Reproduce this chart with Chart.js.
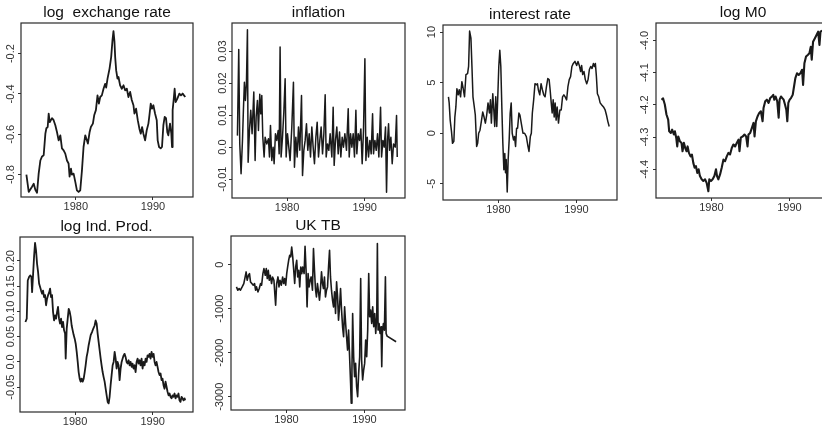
<!DOCTYPE html>
<html lang="en">
<head>
<meta charset="UTF-8">
<title>Monthly series, 1974-1994</title>
<script src="https://cdn.jsdelivr.net/npm/chart.js"></script>
<style>
  html, body { margin: 0; padding: 0; background: #fff; }
  body { width: 822px; height: 425px; overflow: hidden; position: relative; }
  canvas { position: absolute; }
</style>
</head>
<body>
<script>
// ---- data ----
const exYears = [1973.60,1973.90,1974.33,1974.55,1974.76,1974.98,1975.19,1975.41,1975.63,1975.84,1976.06,1976.19,1976.36,1976.49,1976.62,1976.92,1977.13,1977.35,1977.57,1977.78,1978.00,1978.21,1978.43,1978.64,1978.86,1979.07,1979.20,1979.38,1979.50,1979.72,1979.94,1980.15,1980.37,1980.58,1980.80,1981.01,1981.23,1981.44,1981.57,1981.79,1981.96,1982.22,1982.39,1982.61,1982.82,1983.00,1983.17,1983.38,1983.60,1983.81,1983.94,1984.12,1984.38,1984.59,1984.76,1984.89,1985.02,1985.11,1985.24,1985.41,1985.54,1985.75,1985.97,1986.19,1986.40,1986.62,1986.83,1987.05,1987.26,1987.48,1987.61,1987.82,1988.04,1988.25,1988.43,1988.60,1988.77,1988.99,1989.20,1989.42,1989.55,1989.72,1989.89,1990.06,1990.28,1990.50,1990.62,1990.80,1991.01,1991.18,1991.36,1991.53,1991.70,1991.87,1992.00,1992.22,1992.39,1992.48,1992.56,1992.69,1992.82,1992.95,1993.17,1993.43,1993.64,1993.86,1994.03,1994.20];
const exValues = [-0.80,-0.886,-0.86,-0.845,-0.875,-0.89,-0.795,-0.73,-0.71,-0.704,-0.597,-0.57,-0.564,-0.497,-0.54,-0.52,-0.53,-0.555,-0.59,-0.63,-0.605,-0.67,-0.68,-0.696,-0.73,-0.745,-0.81,-0.77,-0.80,-0.795,-0.836,-0.878,-0.886,-0.878,-0.78,-0.663,-0.605,-0.63,-0.646,-0.59,-0.564,-0.547,-0.506,-0.48,-0.407,-0.448,-0.415,-0.407,-0.374,-0.35,-0.368,-0.324,-0.274,-0.217,-0.134,-0.088,-0.142,-0.217,-0.283,-0.324,-0.316,-0.357,-0.374,-0.357,-0.382,-0.374,-0.415,-0.39,-0.43,-0.456,-0.497,-0.473,-0.53,-0.572,-0.597,-0.564,-0.597,-0.63,-0.58,-0.547,-0.506,-0.448,-0.473,-0.456,-0.497,-0.53,-0.63,-0.663,-0.67,-0.663,-0.555,-0.514,-0.52,-0.59,-0.605,-0.547,-0.597,-0.663,-0.48,-0.43,-0.374,-0.44,-0.423,-0.398,-0.407,-0.398,-0.407,-0.415];

const infYears = [1973.60,1973.77,1973.90,1974.07,1974.25,1974.37,1974.50,1974.63,1974.76,1974.89,1974.98,1975.15,1975.32,1975.49,1975.71,1975.88,1976.01,1976.18,1976.31,1976.48,1976.61,1976.74,1976.87,1977.04,1977.17,1977.38,1977.60,1977.73,1977.86,1978.03,1978.20,1978.33,1978.50,1978.67,1978.85,1978.98,1979.10,1979.23,1979.41,1979.58,1979.75,1979.88,1980.05,1980.22,1980.39,1980.61,1980.82,1980.95,1981.13,1981.30,1981.47,1981.64,1981.86,1981.99,1982.16,1982.33,1982.50,1982.67,1982.85,1983.02,1983.19,1983.36,1983.53,1983.71,1983.88,1984.05,1984.22,1984.39,1984.57,1984.74,1984.91,1985.04,1985.21,1985.38,1985.55,1985.77,1985.94,1986.07,1986.24,1986.41,1986.59,1986.76,1986.93,1987.10,1987.27,1987.45,1987.66,1987.88,1988.01,1988.18,1988.35,1988.52,1988.69,1988.87,1988.99,1989.17,1989.34,1989.51,1989.68,1989.85,1990.03,1990.16,1990.33,1990.50,1990.67,1990.84,1991.02,1991.14,1991.32,1991.49,1991.66,1991.83,1992.05,1992.18,1992.35,1992.52,1992.69,1992.82,1992.95,1993.08,1993.21,1993.38,1993.55,1993.72,1993.94,1994.11,1994.20];
const infValues = [0.0036,0.0305,0.0010,-0.0083,0.0021,0.0115,0.0203,0.0146,0.0198,0.0367,-0.0047,0.0052,0.0115,0.0042,0.0172,-0.0042,0.0094,0.0146,0.0052,0.0165,0.0104,0.0161,0.0031,-0.0031,0.0031,0.0010,0.0026,-0.0031,0.0068,-0.0042,0.0,-0.0052,0.0042,0.0021,0.0052,-0.0021,0.0313,-0.0031,0.0031,0.0109,0.0214,-0.0031,0.0042,0.0,-0.0042,0.0063,0.0203,-0.0063,0.0031,-0.0031,0.0063,-0.0010,0.0161,-0.0089,-0.0010,0.0021,0.0073,-0.0010,0.0042,-0.0031,0.0063,0.0,-0.0052,0.0031,0.0078,-0.0031,0.0021,0.0063,-0.0021,0.0042,0.0164,-0.0031,0.0010,-0.0010,0.0042,-0.0031,0.0125,-0.0057,0.0021,0.0063,-0.0021,0.0047,-0.0031,0.0031,0.0,0.0042,-0.0010,0.0120,-0.0031,0.0042,0.0,0.0042,-0.0031,0.0115,-0.0021,0.0042,0.0021,0.0057,-0.0052,0.0052,0.0276,-0.0042,0.0031,-0.0031,0.0021,-0.0021,0.0104,-0.0021,0.0021,-0.0010,0.0042,-0.0031,0.0125,-0.0031,0.0021,0.0,0.0063,-0.0141,0.0021,0.0073,-0.0010,0.0031,-0.0052,0.0010,0.0,0.0099,-0.0031];

const irYears = [1973.60,1973.69,1973.82,1973.99,1974.12,1974.29,1974.42,1974.55,1974.68,1974.85,1974.98,1975.15,1975.32,1975.49,1975.66,1975.84,1976.05,1976.18,1976.31,1976.48,1976.61,1976.74,1976.91,1977.04,1977.21,1977.34,1977.47,1977.64,1977.81,1977.99,1978.16,1978.33,1978.50,1978.67,1978.85,1978.98,1979.10,1979.28,1979.41,1979.53,1979.66,1979.79,1979.92,1980.05,1980.18,1980.31,1980.44,1980.57,1980.70,1980.82,1980.91,1981.00,1981.13,1981.25,1981.38,1981.51,1981.64,1981.77,1981.94,1982.07,1982.20,1982.33,1982.46,1982.63,1982.76,1982.93,1983.15,1983.36,1983.58,1983.79,1983.92,1984.09,1984.22,1984.35,1984.52,1984.69,1984.87,1985.00,1985.12,1985.30,1985.47,1985.64,1985.81,1985.98,1986.16,1986.33,1986.50,1986.63,1986.76,1986.89,1987.02,1987.15,1987.27,1987.40,1987.53,1987.70,1987.88,1988.05,1988.22,1988.39,1988.56,1988.74,1988.91,1989.08,1989.25,1989.42,1989.60,1989.81,1990.03,1990.20,1990.37,1990.54,1990.67,1990.80,1990.97,1991.14,1991.32,1991.49,1991.66,1991.83,1992.00,1992.18,1992.31,1992.43,1992.56,1992.69,1992.86,1993.04,1993.25,1993.47,1993.68,1993.85,1994.03,1994.20];
const irValues = [3.6,3.0,1.3,0.16,-1.0,-0.8,1.6,2.6,4.4,3.8,4.3,3.6,5.1,4.4,3.6,5.8,5.9,6.6,10.1,9.4,6.6,3.6,2.6,1.8,-1.3,-1.0,0.0,0.3,1.15,2.1,1.6,1.0,1.8,3.0,2.0,3.3,1.0,3.9,2.3,0.66,3.6,0.66,3.6,6.6,8.2,6.6,2.6,-1.0,-3.6,-2.0,-3.9,-2.6,-5.8,-2.6,-0.66,2.0,3.0,0.0,-0.66,-0.33,-1.3,0.5,0.5,2.0,1.8,1.0,0.0,0.0,-0.33,-1.3,-1.8,-0.33,0.0,2.0,3.3,4.9,4.8,4.9,4.3,3.8,4.9,4.3,3.8,3.6,4.6,5.4,5.3,4.3,3.1,2.0,3.3,1.6,3.0,1.3,2.6,1.0,2.3,2.3,3.6,3.8,3.6,3.3,4.6,5.3,5.6,6.6,6.9,7.1,6.7,7.1,6.7,6.1,6.7,5.8,6.1,5.3,4.9,5.3,6.3,6.6,6.4,6.9,6.6,6.9,5.6,3.9,3.6,3.0,2.8,2.6,2.3,1.8,1.15,0.66];

const m0Years = [1973.60,1973.81,1974.03,1974.24,1974.46,1974.59,1974.80,1974.97,1975.19,1975.32,1975.49,1975.62,1975.75,1975.96,1976.17,1976.30,1976.47,1976.65,1976.82,1976.95,1977.12,1977.33,1977.50,1977.68,1977.85,1978.02,1978.19,1978.36,1978.53,1978.75,1978.96,1979.18,1979.39,1979.61,1979.73,1979.95,1980.16,1980.38,1980.59,1980.72,1980.89,1981.11,1981.32,1981.54,1981.75,1981.97,1982.18,1982.39,1982.61,1982.82,1983.04,1983.25,1983.47,1983.60,1983.77,1984.02,1984.24,1984.45,1984.63,1984.75,1984.97,1985.18,1985.40,1985.53,1985.70,1985.91,1986.13,1986.34,1986.56,1986.68,1986.90,1987.11,1987.33,1987.54,1987.76,1987.93,1988.06,1988.23,1988.44,1988.62,1988.74,1988.92,1989.09,1989.26,1989.43,1989.60,1989.73,1989.86,1990.03,1990.20,1990.42,1990.59,1990.76,1990.97,1991.19,1991.40,1991.62,1991.75,1991.92,1992.13,1992.35,1992.56,1992.73,1992.86,1993.03,1993.25,1993.46,1993.68,1993.85,1993.98,1994.19];
const m0Values = [-4.184,-4.18,-4.199,-4.23,-4.246,-4.282,-4.287,-4.277,-4.292,-4.282,-4.302,-4.329,-4.298,-4.313,-4.318,-4.344,-4.318,-4.334,-4.344,-4.329,-4.349,-4.36,-4.354,-4.38,-4.395,-4.39,-4.411,-4.40,-4.421,-4.431,-4.436,-4.431,-4.442,-4.468,-4.431,-4.436,-4.431,-4.421,-4.40,-4.421,-4.431,-4.416,-4.395,-4.37,-4.375,-4.36,-4.349,-4.354,-4.334,-4.323,-4.329,-4.318,-4.308,-4.344,-4.302,-4.298,-4.292,-4.298,-4.329,-4.292,-4.287,-4.272,-4.256,-4.298,-4.251,-4.236,-4.225,-4.22,-4.251,-4.21,-4.189,-4.184,-4.194,-4.179,-4.174,-4.169,-4.184,-4.174,-4.189,-4.24,-4.184,-4.174,-4.179,-4.184,-4.199,-4.215,-4.251,-4.194,-4.184,-4.179,-4.169,-4.143,-4.117,-4.102,-4.107,-4.102,-4.091,-4.138,-4.071,-4.05,-4.045,-4.04,-4.02,-4.06,-4.004,-3.994,-3.984,-3.973,-4.014,-3.973,-3.97];

const ipYears = [1973.60,1973.77,1973.90,1974.07,1974.24,1974.37,1974.46,1974.59,1974.72,1974.84,1974.97,1975.10,1975.23,1975.36,1975.49,1975.62,1975.75,1975.87,1976.00,1976.13,1976.26,1976.39,1976.52,1976.65,1976.78,1976.90,1977.03,1977.16,1977.29,1977.42,1977.55,1977.68,1977.80,1977.93,1978.06,1978.19,1978.32,1978.45,1978.58,1978.71,1978.79,1978.92,1979.05,1979.18,1979.31,1979.43,1979.56,1979.69,1979.82,1979.95,1980.08,1980.21,1980.34,1980.46,1980.59,1980.72,1980.85,1980.98,1981.11,1981.24,1981.36,1981.49,1981.62,1981.75,1981.88,1982.01,1982.18,1982.35,1982.52,1982.65,1982.78,1982.91,1983.04,1983.17,1983.30,1983.42,1983.55,1983.68,1983.81,1983.94,1984.07,1984.20,1984.33,1984.45,1984.58,1984.71,1984.84,1984.97,1985.10,1985.23,1985.35,1985.48,1985.61,1985.74,1985.87,1986.00,1986.13,1986.26,1986.38,1986.51,1986.64,1986.77,1986.90,1987.03,1987.16,1987.29,1987.41,1987.54,1987.67,1987.80,1987.93,1988.06,1988.19,1988.31,1988.44,1988.57,1988.70,1988.83,1988.96,1989.09,1989.22,1989.34,1989.47,1989.60,1989.73,1989.86,1989.99,1990.12,1990.25,1990.37,1990.50,1990.63,1990.76,1990.89,1991.02,1991.15,1991.27,1991.40,1991.53,1991.66,1991.79,1991.92,1992.05,1992.18,1992.30,1992.43,1992.56,1992.69,1992.82,1992.95,1993.08,1993.21,1993.33,1993.46,1993.59,1993.72,1993.85,1993.98,1994.11,1994.19];
const ipValues = [0.079,0.0855,0.161,0.168,0.171,0.168,0.138,0.174,0.21,0.2355,0.22,0.194,0.178,0.155,0.148,0.141,0.135,0.141,0.128,0.132,0.112,0.125,0.132,0.137,0.145,0.128,0.132,0.099,0.082,0.092,0.0855,0.099,0.109,0.0855,0.076,0.0855,0.069,0.079,0.0625,0.056,0.0066,0.066,0.0855,0.105,0.099,0.089,0.072,0.0625,0.053,0.046,0.036,0.020,0.0,-0.020,-0.033,-0.039,-0.033,-0.039,-0.033,-0.020,-0.0066,0.0099,0.020,0.033,0.043,0.053,0.059,0.066,0.072,0.082,0.076,0.056,0.039,0.023,0.0066,-0.0066,-0.020,-0.030,-0.039,-0.053,-0.066,-0.079,-0.082,-0.069,-0.046,-0.026,-0.0066,0.0,0.020,0.0066,-0.013,0.0,-0.0066,-0.036,-0.013,0.0,0.0066,0.013,0.016,0.0099,0.0,-0.0033,0.0033,-0.0066,0.0,-0.0099,-0.0033,-0.013,-0.0066,-0.020,0.0,0.0066,-0.0033,0.0033,-0.0066,0.0066,-0.013,0.0,-0.0066,0.0066,0.0,0.013,0.0099,0.016,0.0066,0.020,0.0099,0.016,0.0,-0.0066,0.0,-0.0099,-0.020,-0.026,-0.023,-0.036,-0.033,-0.046,-0.053,-0.039,-0.049,-0.059,-0.066,-0.0625,-0.069,-0.072,-0.066,-0.069,-0.0625,-0.072,-0.066,-0.069,-0.0625,-0.076,-0.079,-0.069,-0.072,-0.076,-0.072,-0.076];

const tbYears = [1973.60,1973.77,1973.94,1974.11,1974.33,1974.54,1974.67,1974.84,1974.97,1975.14,1975.27,1975.40,1975.57,1975.75,1975.92,1976.05,1976.17,1976.35,1976.52,1976.69,1976.82,1976.99,1977.12,1977.29,1977.42,1977.55,1977.68,1977.80,1977.93,1978.10,1978.23,1978.40,1978.53,1978.62,1978.75,1978.92,1979.05,1979.18,1979.35,1979.52,1979.65,1979.78,1979.91,1980.04,1980.16,1980.29,1980.42,1980.55,1980.68,1980.81,1980.94,1981.06,1981.19,1981.32,1981.45,1981.58,1981.71,1981.84,1981.97,1982.09,1982.27,1982.39,1982.52,1982.65,1982.78,1982.91,1983.04,1983.17,1983.34,1983.47,1983.60,1983.72,1983.85,1983.98,1984.11,1984.24,1984.37,1984.50,1984.63,1984.75,1984.88,1985.01,1985.14,1985.27,1985.40,1985.53,1985.65,1985.78,1985.91,1986.04,1986.17,1986.30,1986.43,1986.56,1986.68,1986.81,1986.94,1987.07,1987.20,1987.33,1987.46,1987.59,1987.71,1987.84,1987.97,1988.10,1988.23,1988.31,1988.40,1988.49,1988.62,1988.74,1988.87,1989.00,1989.13,1989.26,1989.39,1989.52,1989.64,1989.77,1989.90,1990.03,1990.16,1990.29,1990.42,1990.55,1990.67,1990.80,1990.93,1991.06,1991.19,1991.32,1991.45,1991.58,1991.66,1991.75,1991.88,1992.00,1992.13,1992.22,1992.30,1992.43,1992.56,1992.69,1992.78,1992.91,1994.06];
const tbValues = [-506,-581,-544,-581,-506,-430,-317,-166,-355,-242,-204,-393,-430,-468,-430,-581,-506,-619,-544,-430,-468,-204,-91,-242,-91,-317,-128,-355,-242,-430,-280,-355,-695,-921,-430,-280,-506,-355,-468,-280,-430,-317,-468,-204,-53,98,211,174,400,174,-128,-430,-53,98,-280,-128,-506,-53,-204,-53,-204,415,-128,-959,-204,-506,-355,-280,-581,362,-128,-544,-732,-430,-619,-808,-544,-166,-430,-544,-280,-732,-581,-506,-53,325,-280,-581,-808,-959,-619,-1110,-393,-732,-1261,-959,-544,-1034,-1412,-1638,-959,-1336,-1638,-1940,-1487,-2091,-2695,-3148,-2393,-1110,-2091,-2544,-2242,-2771,-2997,-2469,-2091,-317,-2167,-2620,-2393,-2242,-1714,-2091,-1487,-204,-1185,-1034,-1336,-959,-1412,-1110,-1563,-1185,476,-1487,-1336,-1563,-1412,-2318,-1563,-1336,-1487,-279,-1563,-1623,-1752];

// axis ticks
const xTicks = [1980, 1990];
const exTicks = [-0.8, -0.6, -0.4, -0.2];
const exTickLabels = ['-0.8', '-0.6', '-0.4', '-0.2'];
const infTicks = [-0.01, 0, 0.01, 0.02, 0.03];
const infTickLabels = ['-0.01', '0.0', '0.01', '0.02', '0.03'];
const irTicks = [-5, 0, 5, 10];
const irTickLabels = ['-5', '0', '5', '10'];
const m0Ticks = [-4.4, -4.3, -4.2, -4.1, -4.0];
const m0TickLabels = ['-4.4', '-4.3', '-4.2', '-4.1', '-4.0'];
const ipTicks = [-0.05, 0, 0.05, 0.10, 0.15, 0.20];
const ipTickLabels = ['-0.05', '0.0', '0.05', '0.10', '0.15', '0.20'];
const tbTicks = [-3000, -2000, -1000, 0];
const tbTickLabels = ['-3000', '-2000', '-1000', '0'];

// ---- layout ----
const FONT = '"Liberation Sans", Arial, Helvetica, sans-serif';
const INK = '#1a1a1a';
const YW = 26;   // room left (and right) of the plot box
const XH = 19;   // room under the plot box
const TH = 23;   // title block
const X_MIN = 1972.9, X_MAX = 1995.2;

const panels = [
  { title: 'log  exchange rate', xs: exYears, ys: exValues, yMin: -0.911, yMax: -0.048, ticks: exTicks, labels: exTickLabels, box: [21, 23, 193, 197], off: 10.5, lw: 1.8 },
  { title: 'inflation', xs: infYears, ys: infValues, yMin: -0.0159, yMax: 0.0388, ticks: infTicks, labels: infTickLabels, box: [232, 23, 405, 198], off: 9.5, lw: 1.5 },
  { title: 'interest rate', xs: irYears, ys: irValues, yMin: -6.6, yMax: 10.7, ticks: irTicks, labels: irTickLabels, box: [443, 25, 617, 200], off: 11, lw: 1.5 },
  { title: 'log M0', xs: m0Years, ys: m0Values, yMin: -4.489, yMax: -3.946, ticks: m0Ticks, labels: m0TickLabels, box: [656, 23, 830, 198], off: 11, lw: 2.1 },
  { title: 'log Ind. Prod.', xs: ipYears, ys: ipValues, yMin: -0.099, yMax: 0.247, ticks: ipTicks, labels: ipTickLabels, box: [20, 237, 193, 412], off: 9, lw: 1.8 },
  { title: 'UK TB', xs: tbYears, ys: tbValues, yMin: -3300, yMax: 649, ticks: tbTicks, labels: tbTickLabels, box: [231, 236, 405, 410], off: 11, lw: 1.6 }
];

// box around the plot + rotated y labels (R style)
function framePlugin(p) {
  return {
    id: 'frame',
    afterDraw(chart) {
      const { ctx, chartArea: a, scales: { y } } = chart;
      ctx.save();
      ctx.strokeStyle = '#2a2a2a';
      ctx.lineWidth = 1.2;
      ctx.strokeRect(a.left, a.top, a.right - a.left, a.bottom - a.top);
      ctx.fillStyle = '#333';
      ctx.font = '11px ' + FONT;
      ctx.textAlign = 'center';
      ctx.textBaseline = 'middle';
      p.ticks.forEach((v, i) => {
        ctx.save();
        ctx.translate(a.left - p.off, y.getPixelForValue(v));
        ctx.rotate(-Math.PI / 2);
        ctx.fillText(p.labels[i], 0, 0);
        ctx.restore();
      });
      ctx.restore();
    }
  };
}

panels.forEach(p => {
  const [L, T, R, B] = p.box;
  const cv = document.createElement('canvas');
  const w = R - L + 2 * YW, h = B - T + TH + XH;
  cv.width = w; cv.height = h;
  cv.style.left = (L - YW) + 'px';
  cv.style.top = (T - TH) + 'px';
  cv.style.width = w + 'px';
  cv.style.height = h + 'px';
  document.body.appendChild(cv);

  const n = Math.min(p.xs.length, p.ys.length);
  const pts = [];
  for (let i = 0; i < n; i++) pts.push({ x: p.xs[i], y: p.ys[i] });

  new Chart(cv.getContext('2d'), {
    type: 'line',
    data: {
      datasets: [{
        data: pts,
        borderColor: INK,
        borderWidth: p.lw,
        borderJoinStyle: 'round',
        pointRadius: 0,
        tension: 0,
        fill: false
      }]
    },
    options: {
      responsive: false,
      animation: false,
      devicePixelRatio: 1,
      events: [],
      plugins: {
        legend: { display: false },
        tooltip: { enabled: false },
        title: {
          display: true,
          text: p.title,
          color: '#111',
          font: { family: FONT, size: 15.5, weight: 'normal', lineHeight: '18px' },
          padding: { top: 4, bottom: 1 }
        }
      },
      scales: {
        x: {
          type: 'linear',
          min: X_MIN,
          max: X_MAX,
          afterBuildTicks: s => { s.ticks = xTicks.map(v => ({ value: v })); },
          afterFit: s => { s.height = XH; },
          ticks: {
            color: '#333',
            font: { family: FONT, size: 11 },
            padding: 0,
            maxRotation: 0,
            autoSkip: false,
            callback: v => String(v)
          },
          grid: { drawOnChartArea: false, tickLength: 3, color: '#333' },
          border: { display: false }
        },
        y: {
          type: 'linear',
          min: p.yMin,
          max: p.yMax,
          afterBuildTicks: s => { s.ticks = p.ticks.map(v => ({ value: v })); },
          afterFit: s => { s.width = YW; },
          ticks: { display: false },
          grid: { drawOnChartArea: false, tickLength: 3, color: '#333' },
          border: { display: false }
        },
        // empty right-hand spacer so the title centres over the plot box
        spacer: {
          type: 'linear',
          position: 'right',
          afterFit: s => { s.width = YW; },
          ticks: { display: false },
          grid: { display: false },
          border: { display: false }
        }
      }
    },
    plugins: [framePlugin(p)]
  });
});
</script>
</body>
</html>
